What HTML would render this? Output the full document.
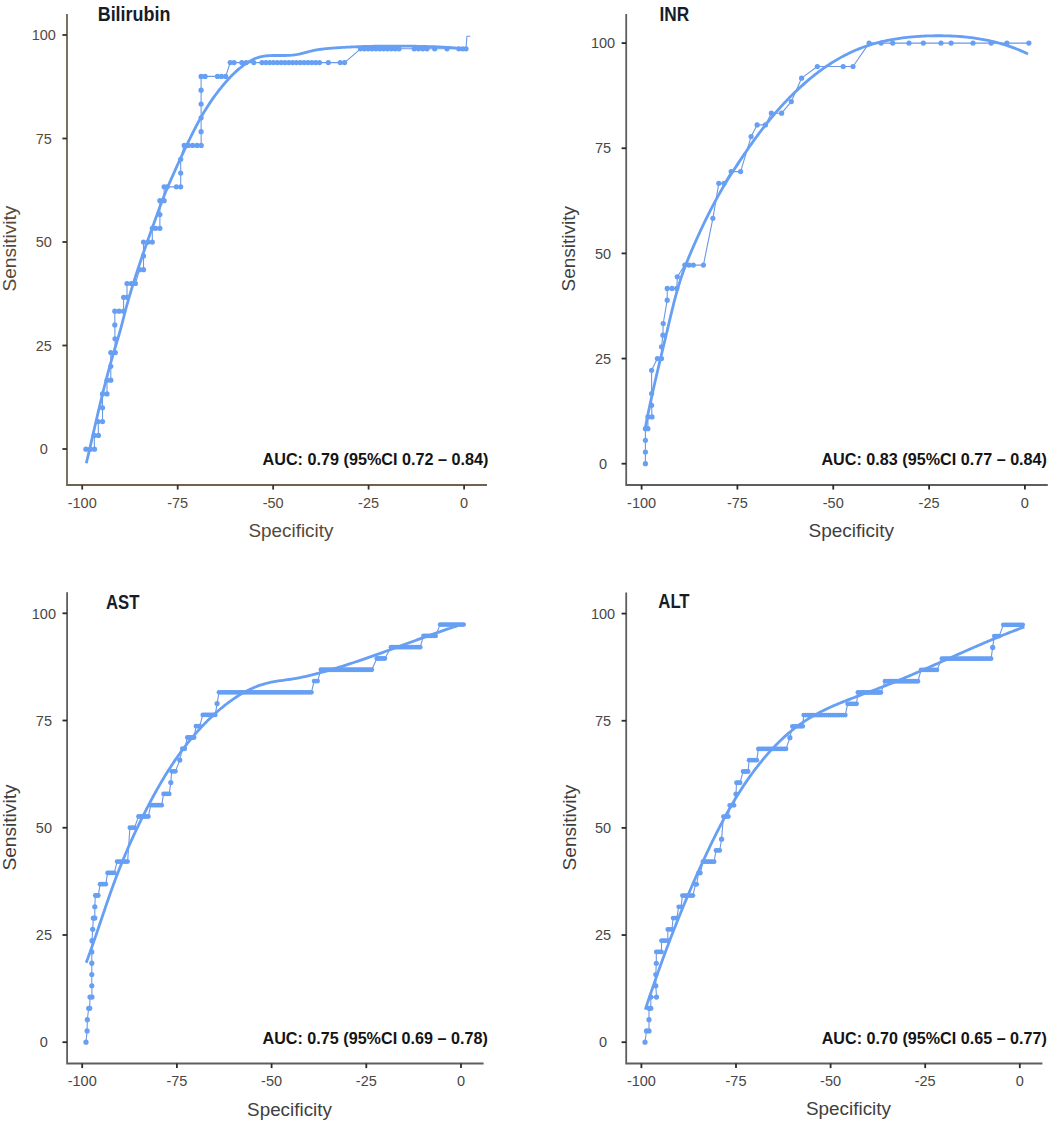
<!DOCTYPE html><html><head><meta charset="utf-8"><style>
html,body{margin:0;padding:0;background:#fff;width:1052px;height:1126px;overflow:hidden}
svg{display:block}
text{font-family:"Liberation Sans",sans-serif}
.tl{font-size:14.5px}
.at{font-size:19.2px}
.tt{font-size:19.3px;font-weight:bold;fill:#161c28}
.auc{font-size:16.4px;font-weight:bold;fill:#141414}
</style></head><body>
<svg width="1052" height="1126" viewBox="0 0 1052 1126">
<rect width="1052" height="1126" fill="#fff"/>
<path d="M67.00,14.00 V485.00 H487.00" fill="none" stroke="#6f624f" stroke-width="1.8"/>
<line x1="62.40" y1="35.00" x2="67.00" y2="35.00" stroke="#3a3128" stroke-width="1.8"/>
<text x="43.80" y="40.20" text-anchor="middle" class="tl" fill="#56493a">100</text>
<line x1="62.40" y1="138.50" x2="67.00" y2="138.50" stroke="#3a3128" stroke-width="1.8"/>
<text x="43.80" y="143.70" text-anchor="middle" class="tl" fill="#56493a">75</text>
<line x1="62.40" y1="242.00" x2="67.00" y2="242.00" stroke="#3a3128" stroke-width="1.8"/>
<text x="43.80" y="247.20" text-anchor="middle" class="tl" fill="#56493a">50</text>
<line x1="62.40" y1="345.50" x2="67.00" y2="345.50" stroke="#3a3128" stroke-width="1.8"/>
<text x="43.80" y="350.70" text-anchor="middle" class="tl" fill="#56493a">25</text>
<line x1="62.40" y1="449.00" x2="67.00" y2="449.00" stroke="#3a3128" stroke-width="1.8"/>
<text x="43.80" y="454.20" text-anchor="middle" class="tl" fill="#56493a">0</text>
<line x1="82.20" y1="485.00" x2="82.20" y2="489.60" stroke="#3a3128" stroke-width="1.8"/>
<text x="82.20" y="507.80" text-anchor="middle" class="tl" fill="#56493a">-100</text>
<line x1="177.70" y1="485.00" x2="177.70" y2="489.60" stroke="#3a3128" stroke-width="1.8"/>
<text x="177.70" y="507.80" text-anchor="middle" class="tl" fill="#56493a">-75</text>
<line x1="273.15" y1="485.00" x2="273.15" y2="489.60" stroke="#3a3128" stroke-width="1.8"/>
<text x="273.15" y="507.80" text-anchor="middle" class="tl" fill="#56493a">-50</text>
<line x1="368.60" y1="485.00" x2="368.60" y2="489.60" stroke="#3a3128" stroke-width="1.8"/>
<text x="368.60" y="507.80" text-anchor="middle" class="tl" fill="#56493a">-25</text>
<line x1="464.10" y1="485.00" x2="464.10" y2="489.60" stroke="#3a3128" stroke-width="1.8"/>
<text x="464.10" y="507.80" text-anchor="middle" class="tl" fill="#56493a">0</text>
<text x="248.50" y="536.60" class="at" fill="#56493a" textLength="84.90" lengthAdjust="spacingAndGlyphs">Specificity</text>
<text transform="translate(16.30,291.60) rotate(-90)" x="0" y="0" class="at" fill="#56493a" textLength="86.00" lengthAdjust="spacingAndGlyphs">Sensitivity</text>
<text x="97.70" y="20.50" class="tt" textLength="72.70" lengthAdjust="spacingAndGlyphs">Bilirubin</text>
<text x="262.50" y="465.40" class="auc" textLength="225.90" lengthAdjust="spacingAndGlyphs">AUC: 0.79 (95%CI 0.72 – 0.84)</text>
<polyline points="85.90,449.20 90.40,449.20 94.50,449.20 94.20,435.39 98.40,435.39 98.20,421.59 102.50,421.59 102.50,407.78 102.50,393.97 107.00,393.97 107.00,380.16 110.80,380.16 110.80,366.36 110.80,352.55 115.30,352.55 115.00,338.74 114.80,324.94 114.80,311.13 119.10,311.13 123.60,311.13 123.60,297.32 127.00,297.32 127.00,283.52 131.20,283.52 135.40,283.52 139.60,269.71 143.50,269.71 143.50,255.90 143.50,242.09 148.10,242.09 152.30,242.09 152.30,228.29 155.70,228.29 159.90,228.29 159.90,214.48 159.90,200.67 164.10,200.67 164.10,186.87 167.20,186.87 176.40,186.87 180.70,186.87 180.70,173.06 180.70,159.25 184.20,145.45 188.30,145.45 192.60,145.45 197.00,145.45 201.20,145.45 201.10,131.64 201.10,117.83 201.10,104.02 201.10,90.22 201.10,76.41 205.10,76.41 217.50,76.41 221.50,76.41 225.70,76.41 230.20,62.60 234.00,62.60 241.80,62.60 246.20,62.60 253.80,62.60 262.00,62.60 265.83,62.60 269.66,62.60 273.49,62.60 277.32,62.60 281.15,62.60 284.98,62.60 288.81,62.60 292.64,62.60 296.47,62.60 300.30,62.60 304.13,62.60 307.96,62.60 311.79,62.60 315.62,62.60 319.45,62.60 328.30,62.60 340.30,62.60 344.60,62.60 360.50,48.80 364.35,48.80 368.20,48.80 372.05,48.80 375.90,48.80 379.75,48.80 383.60,48.80 387.45,48.80 391.30,48.80 395.15,48.80 399.00,48.80 414.20,48.80 418.50,48.80 422.80,48.80 427.00,48.80 434.70,48.80 447.00,48.80 458.90,48.80 462.70,48.80 466.00,48.80 466.90,36.30 470.30,36.30" fill="none" stroke="#6d97e3" stroke-width="1.1" stroke-linejoin="round"/>
<g fill="#669ff3">
<circle cx="85.90" cy="449.20" r="2.6"/>
<circle cx="90.40" cy="449.20" r="2.6"/>
<circle cx="94.50" cy="449.20" r="2.6"/>
<circle cx="94.20" cy="435.39" r="2.6"/>
<circle cx="98.40" cy="435.39" r="2.6"/>
<circle cx="98.20" cy="421.59" r="2.6"/>
<circle cx="102.50" cy="421.59" r="2.6"/>
<circle cx="102.50" cy="407.78" r="2.6"/>
<circle cx="102.50" cy="393.97" r="2.6"/>
<circle cx="107.00" cy="393.97" r="2.6"/>
<circle cx="107.00" cy="380.16" r="2.6"/>
<circle cx="110.80" cy="380.16" r="2.6"/>
<circle cx="110.80" cy="366.36" r="2.6"/>
<circle cx="110.80" cy="352.55" r="2.6"/>
<circle cx="115.30" cy="352.55" r="2.6"/>
<circle cx="115.00" cy="338.74" r="2.6"/>
<circle cx="114.80" cy="324.94" r="2.6"/>
<circle cx="114.80" cy="311.13" r="2.6"/>
<circle cx="119.10" cy="311.13" r="2.6"/>
<circle cx="123.60" cy="311.13" r="2.6"/>
<circle cx="123.60" cy="297.32" r="2.6"/>
<circle cx="127.00" cy="297.32" r="2.6"/>
<circle cx="127.00" cy="283.52" r="2.6"/>
<circle cx="131.20" cy="283.52" r="2.6"/>
<circle cx="135.40" cy="283.52" r="2.6"/>
<circle cx="139.60" cy="269.71" r="2.6"/>
<circle cx="143.50" cy="269.71" r="2.6"/>
<circle cx="143.50" cy="255.90" r="2.6"/>
<circle cx="143.50" cy="242.09" r="2.6"/>
<circle cx="148.10" cy="242.09" r="2.6"/>
<circle cx="152.30" cy="242.09" r="2.6"/>
<circle cx="152.30" cy="228.29" r="2.6"/>
<circle cx="155.70" cy="228.29" r="2.6"/>
<circle cx="159.90" cy="228.29" r="2.6"/>
<circle cx="159.90" cy="214.48" r="2.6"/>
<circle cx="159.90" cy="200.67" r="2.6"/>
<circle cx="164.10" cy="200.67" r="2.6"/>
<circle cx="164.10" cy="186.87" r="2.6"/>
<circle cx="167.20" cy="186.87" r="2.6"/>
<circle cx="176.40" cy="186.87" r="2.6"/>
<circle cx="180.70" cy="186.87" r="2.6"/>
<circle cx="180.70" cy="173.06" r="2.6"/>
<circle cx="180.70" cy="159.25" r="2.6"/>
<circle cx="184.20" cy="145.45" r="2.6"/>
<circle cx="188.30" cy="145.45" r="2.6"/>
<circle cx="192.60" cy="145.45" r="2.6"/>
<circle cx="197.00" cy="145.45" r="2.6"/>
<circle cx="201.20" cy="145.45" r="2.6"/>
<circle cx="201.10" cy="131.64" r="2.6"/>
<circle cx="201.10" cy="117.83" r="2.6"/>
<circle cx="201.10" cy="104.02" r="2.6"/>
<circle cx="201.10" cy="90.22" r="2.6"/>
<circle cx="201.10" cy="76.41" r="2.6"/>
<circle cx="205.10" cy="76.41" r="2.6"/>
<circle cx="217.50" cy="76.41" r="2.6"/>
<circle cx="221.50" cy="76.41" r="2.6"/>
<circle cx="225.70" cy="76.41" r="2.6"/>
<circle cx="230.20" cy="62.60" r="2.6"/>
<circle cx="234.00" cy="62.60" r="2.6"/>
<circle cx="241.80" cy="62.60" r="2.6"/>
<circle cx="246.20" cy="62.60" r="2.6"/>
<circle cx="253.80" cy="62.60" r="2.6"/>
<circle cx="262.00" cy="62.60" r="2.6"/>
<circle cx="265.83" cy="62.60" r="2.6"/>
<circle cx="269.66" cy="62.60" r="2.6"/>
<circle cx="273.49" cy="62.60" r="2.6"/>
<circle cx="277.32" cy="62.60" r="2.6"/>
<circle cx="281.15" cy="62.60" r="2.6"/>
<circle cx="284.98" cy="62.60" r="2.6"/>
<circle cx="288.81" cy="62.60" r="2.6"/>
<circle cx="292.64" cy="62.60" r="2.6"/>
<circle cx="296.47" cy="62.60" r="2.6"/>
<circle cx="300.30" cy="62.60" r="2.6"/>
<circle cx="304.13" cy="62.60" r="2.6"/>
<circle cx="307.96" cy="62.60" r="2.6"/>
<circle cx="311.79" cy="62.60" r="2.6"/>
<circle cx="315.62" cy="62.60" r="2.6"/>
<circle cx="319.45" cy="62.60" r="2.6"/>
<circle cx="328.30" cy="62.60" r="2.6"/>
<circle cx="340.30" cy="62.60" r="2.6"/>
<circle cx="344.60" cy="62.60" r="2.6"/>
<circle cx="360.50" cy="48.80" r="2.6"/>
<circle cx="364.35" cy="48.80" r="2.6"/>
<circle cx="368.20" cy="48.80" r="2.6"/>
<circle cx="372.05" cy="48.80" r="2.6"/>
<circle cx="375.90" cy="48.80" r="2.6"/>
<circle cx="379.75" cy="48.80" r="2.6"/>
<circle cx="383.60" cy="48.80" r="2.6"/>
<circle cx="387.45" cy="48.80" r="2.6"/>
<circle cx="391.30" cy="48.80" r="2.6"/>
<circle cx="395.15" cy="48.80" r="2.6"/>
<circle cx="399.00" cy="48.80" r="2.6"/>
<circle cx="414.20" cy="48.80" r="2.6"/>
<circle cx="418.50" cy="48.80" r="2.6"/>
<circle cx="422.80" cy="48.80" r="2.6"/>
<circle cx="427.00" cy="48.80" r="2.6"/>
<circle cx="434.70" cy="48.80" r="2.6"/>
<circle cx="447.00" cy="48.80" r="2.6"/>
<circle cx="458.90" cy="48.80" r="2.6"/>
<circle cx="462.70" cy="48.80" r="2.6"/>
<circle cx="466.00" cy="48.80" r="2.6"/>
</g>
<path d="M86.32,463.21 L86.67,461.74 L87.02,460.27 L87.37,458.80 L87.71,457.33 L88.06,455.86 L88.40,454.39 L88.75,452.92 L89.09,451.46 L89.43,449.99 L89.77,448.52 L90.11,447.05 L90.45,445.58 L90.79,444.12 L91.13,442.65 L91.47,441.18 L91.81,439.71 L92.14,438.25 L92.48,436.78 L92.82,435.31 L93.16,433.85 L93.49,432.38 L93.83,430.92 L94.17,429.45 L94.51,427.98 L94.84,426.52 L95.18,425.05 L95.52,423.59 L95.86,422.12 L96.20,420.66 L96.54,419.19 L96.88,417.73 L97.22,416.27 L97.56,414.80 L97.91,413.34 L98.25,411.87 L98.59,410.41 L98.94,408.95 L99.29,407.49 L99.63,406.02 L99.98,404.56 L100.33,403.10 L100.69,401.64 L101.04,400.17 L101.39,398.71 L101.75,397.25 L102.11,395.79 L102.47,394.33 L102.83,392.87 L103.19,391.41 L103.56,389.95 L103.92,388.49 L104.29,387.03 L104.66,385.57 L105.04,384.11 L105.41,382.65 L105.79,381.19 L106.17,379.73 L106.55,378.28 L106.94,376.82 L107.32,375.36 L107.71,373.90 L108.10,372.44 L108.50,370.99 L108.89,369.53 L109.29,368.07 L109.70,366.62 L110.10,365.16 L110.51,363.71 L110.91,362.25 L111.32,360.80 L111.74,359.34 L112.15,357.89 L112.57,356.43 L112.99,354.98 L113.42,353.52 L113.84,352.07 L114.27,350.62 L114.70,349.16 L115.13,347.71 L115.57,346.26 L116.00,344.81 L116.44,343.35 L116.87,341.90 L117.31,340.45 L117.74,339.00 L118.17,337.55 L118.60,336.10 L119.03,334.65 L119.45,333.20 L119.86,331.75 L120.27,330.30 L120.67,328.85 L121.07,327.40 L121.46,325.95 L121.84,324.50 L122.22,323.06 L122.59,321.61 L122.96,320.16 L123.32,318.72 L123.69,317.27 L124.05,315.82 L124.41,314.38 L124.79,312.93 L125.16,311.49 L125.55,310.04 L125.93,308.60 L126.33,307.15 L126.72,305.71 L127.13,304.26 L127.53,302.82 L127.94,301.38 L128.36,299.93 L128.77,298.49 L129.20,297.05 L129.62,295.61 L130.05,294.17 L130.48,292.73 L130.91,291.28 L131.34,289.84 L131.78,288.40 L132.22,286.96 L132.67,285.53 L133.11,284.09 L133.56,282.65 L134.01,281.21 L134.46,279.77 L134.92,278.34 L135.38,276.90 L135.84,275.46 L136.30,274.03 L136.77,272.59 L137.23,271.16 L137.70,269.72 L138.17,268.29 L138.65,266.85 L139.12,265.42 L139.60,263.99 L140.08,262.56 L140.56,261.13 L141.05,259.69 L141.53,258.26 L142.02,256.83 L142.51,255.41 L143.00,253.98 L143.50,252.55 L143.99,251.12 L144.49,249.69 L144.99,248.27 L145.49,246.84 L145.99,245.42 L146.49,243.99 L146.99,242.57 L147.50,241.15 L148.00,239.72 L148.51,238.30 L149.02,236.88 L149.53,235.46 L150.04,234.04 L150.55,232.62 L151.06,231.20 L151.57,229.79 L152.08,228.37 L152.59,226.95 L153.10,225.54 L153.62,224.12 L154.13,222.71 L154.64,221.30 L155.15,219.88 L155.66,218.47 L156.17,217.06 L156.68,215.65 L157.19,214.24 L157.70,212.83 L158.21,211.43 L158.72,210.02 L159.23,208.61 L159.75,207.21 L160.26,205.80 L160.78,204.40 L161.31,203.00 L161.83,201.60 L162.36,200.20 L162.90,198.80 L163.44,197.40 L163.99,196.00 L164.55,194.60 L165.11,193.21 L165.68,191.81 L166.26,190.42 L166.85,189.03 L167.44,187.63 L168.04,186.24 L168.65,184.85 L169.25,183.46 L169.86,182.07 L170.48,180.69 L171.09,179.30 L171.70,177.92 L172.31,176.53 L172.93,175.15 L173.54,173.77 L174.16,172.39 L174.77,171.01 L175.39,169.63 L176.01,168.25 L176.62,166.87 L177.24,165.50 L177.87,164.12 L178.49,162.75 L179.12,161.38 L179.74,160.01 L180.37,158.64 L181.01,157.27 L181.64,155.90 L182.28,154.54 L182.92,153.17 L183.56,151.81 L184.20,150.44 L184.85,149.08 L185.50,147.72 L186.15,146.36 L186.80,145.01 L187.45,143.65 L188.10,142.29 L188.76,140.94 L189.42,139.59 L190.08,138.24 L190.74,136.89 L191.41,135.54 L192.08,134.19 L192.75,132.85 L193.43,131.51 L194.11,130.17 L194.80,128.84 L195.49,127.50 L196.18,126.17 L196.88,124.85 L197.59,123.52 L198.30,122.20 L199.02,120.88 L199.74,119.57 L200.48,118.26 L201.21,116.95 L201.96,115.65 L202.71,114.35 L203.48,113.06 L204.25,111.77 L205.02,110.48 L205.81,109.20 L206.61,107.93 L207.41,106.65 L208.23,105.39 L209.05,104.13 L209.89,102.87 L210.73,101.62 L211.58,100.38 L212.44,99.14 L213.32,97.91 L214.20,96.68 L215.09,95.46 L215.98,94.24 L216.89,93.04 L217.81,91.84 L218.73,90.64 L219.66,89.45 L220.61,88.27 L221.56,87.10 L222.51,85.93 L223.48,84.77 L224.46,83.62 L225.44,82.48 L226.43,81.34 L227.43,80.22 L228.44,79.10 L229.46,78.00 L230.50,76.90 L231.54,75.82 L232.60,74.75 L233.67,73.70 L234.75,72.66 L235.85,71.64 L236.96,70.63 L238.09,69.64 L239.23,68.67 L240.40,67.72 L241.58,66.79 L242.77,65.88 L243.99,64.99 L245.22,64.12 L246.48,63.27 L247.75,62.45 L249.05,61.66 L250.37,60.88 L251.71,60.14 L253.07,59.45 L254.45,58.81 L255.85,58.24 L257.27,57.73 L258.70,57.29 L260.14,56.90 L261.60,56.57 L263.07,56.29 L264.55,56.07 L266.04,55.88 L267.53,55.74 L269.04,55.64 L270.54,55.56 L272.05,55.52 L273.56,55.49 L275.08,55.48 L276.59,55.48 L278.10,55.49 L279.61,55.50 L281.11,55.51 L282.61,55.52 L284.11,55.51 L285.61,55.49 L287.10,55.46 L288.59,55.40 L290.07,55.32 L291.56,55.22 L293.04,55.08 L294.52,54.91 L296.00,54.71 L297.48,54.46 L298.95,54.17 L300.43,53.83 L301.91,53.47 L303.38,53.08 L304.86,52.68 L306.34,52.28 L307.81,51.88 L309.29,51.50 L310.77,51.14 L312.25,50.80 L313.74,50.49 L315.22,50.20 L316.70,49.93 L318.19,49.68 L319.68,49.45 L321.16,49.24 L322.65,49.05 L324.14,48.87 L325.63,48.70 L327.13,48.55 L328.62,48.41 L330.11,48.27 L331.61,48.15 L333.10,48.04 L334.60,47.93 L336.09,47.83 L337.59,47.73 L339.09,47.63 L340.58,47.54 L342.08,47.45 L343.58,47.37 L345.08,47.28 L346.58,47.20 L348.08,47.13 L349.58,47.05 L351.08,46.98 L352.59,46.91 L354.09,46.85 L355.59,46.79 L357.09,46.73 L358.60,46.67 L360.10,46.62 L361.61,46.57 L363.11,46.52 L364.62,46.47 L366.12,46.43 L367.63,46.39 L369.13,46.35 L370.64,46.32 L372.15,46.28 L373.65,46.25 L375.16,46.23 L376.67,46.20 L378.17,46.18 L379.68,46.16 L381.19,46.14 L382.70,46.12 L384.21,46.11 L385.71,46.09 L387.22,46.09 L388.73,46.08 L390.24,46.07 L391.75,46.07 L393.26,46.07 L394.77,46.07 L396.27,46.07 L397.78,46.08 L399.29,46.08 L400.80,46.09 L402.31,46.10 L403.82,46.11 L405.33,46.13 L406.84,46.14 L408.34,46.16 L409.85,46.18 L411.36,46.20 L412.87,46.22 L414.38,46.25 L415.89,46.27 L417.39,46.30 L418.90,46.33 L420.41,46.36 L421.92,46.39 L423.42,46.42 L424.93,46.46 L426.44,46.49 L427.94,46.53 L429.45,46.58 L430.96,46.62 L432.46,46.67 L433.97,46.72 L435.47,46.77 L436.98,46.83 L438.48,46.90 L439.98,46.96 L441.49,47.03 L442.99,47.11 L444.49,47.19 L446.00,47.28 L447.50,47.37 L449.00,47.47 L450.50,47.57 L452.00,47.68 L453.50,47.79 L455.00,47.91 L456.50,48.04 L458.00,48.18 L459.49,48.32 L460.99,48.47 L462.49,48.63 L463.98,48.79 L465.48,48.96" fill="none" stroke="#669ff3" stroke-width="2.8" stroke-linecap="butt" stroke-linejoin="round"/>
<path d="M626.20,14.00 V485.00 H1047.80" fill="none" stroke="#5e5e5e" stroke-width="1.8"/>
<line x1="621.60" y1="43.10" x2="626.20" y2="43.10" stroke="#2a2a2a" stroke-width="1.8"/>
<text x="603.00" y="48.30" text-anchor="middle" class="tl" fill="#474747">100</text>
<line x1="621.60" y1="148.25" x2="626.20" y2="148.25" stroke="#2a2a2a" stroke-width="1.8"/>
<text x="603.00" y="153.45" text-anchor="middle" class="tl" fill="#474747">75</text>
<line x1="621.60" y1="253.40" x2="626.20" y2="253.40" stroke="#2a2a2a" stroke-width="1.8"/>
<text x="603.00" y="258.60" text-anchor="middle" class="tl" fill="#474747">50</text>
<line x1="621.60" y1="358.55" x2="626.20" y2="358.55" stroke="#2a2a2a" stroke-width="1.8"/>
<text x="603.00" y="363.75" text-anchor="middle" class="tl" fill="#474747">25</text>
<line x1="621.60" y1="463.70" x2="626.20" y2="463.70" stroke="#2a2a2a" stroke-width="1.8"/>
<text x="603.00" y="468.90" text-anchor="middle" class="tl" fill="#474747">0</text>
<line x1="641.60" y1="485.00" x2="641.60" y2="489.60" stroke="#2a2a2a" stroke-width="1.8"/>
<text x="641.60" y="507.80" text-anchor="middle" class="tl" fill="#474747">-100</text>
<line x1="737.40" y1="485.00" x2="737.40" y2="489.60" stroke="#2a2a2a" stroke-width="1.8"/>
<text x="737.40" y="507.80" text-anchor="middle" class="tl" fill="#474747">-75</text>
<line x1="833.25" y1="485.00" x2="833.25" y2="489.60" stroke="#2a2a2a" stroke-width="1.8"/>
<text x="833.25" y="507.80" text-anchor="middle" class="tl" fill="#474747">-50</text>
<line x1="929.10" y1="485.00" x2="929.10" y2="489.60" stroke="#2a2a2a" stroke-width="1.8"/>
<text x="929.10" y="507.80" text-anchor="middle" class="tl" fill="#474747">-25</text>
<line x1="1024.90" y1="485.00" x2="1024.90" y2="489.60" stroke="#2a2a2a" stroke-width="1.8"/>
<text x="1024.90" y="507.80" text-anchor="middle" class="tl" fill="#474747">0</text>
<text x="808.50" y="537.40" class="at" fill="#3f3f3f" textLength="85.60" lengthAdjust="spacingAndGlyphs">Specificity</text>
<text transform="translate(574.90,291.50) rotate(-90)" x="0" y="0" class="at" fill="#3f3f3f" textLength="85.50" lengthAdjust="spacingAndGlyphs">Sensitivity</text>
<text x="659.40" y="20.50" class="tt" textLength="29.70" lengthAdjust="spacingAndGlyphs">INR</text>
<text x="821.40" y="465.30" class="auc" textLength="225.60" lengthAdjust="spacingAndGlyphs">AUC: 0.83 (95%CI 0.77 – 0.84)</text>
<polyline points="645.40,463.70 645.40,452.02 645.40,440.33 645.40,428.65 647.90,428.65 647.90,416.97 652.00,416.97 651.60,405.28 651.60,393.60 651.60,370.24 657.40,358.55 661.50,358.55 661.50,346.87 662.90,335.19 663.20,323.50 667.20,300.14 667.20,288.45 672.00,288.45 676.80,288.45 677.30,276.77 684.80,265.09 689.00,265.09 693.30,265.09 703.40,265.09 712.90,218.36 718.80,183.31 724.10,183.31 731.20,171.62 740.60,171.62 751.10,136.58 757.10,124.89 765.40,124.89 771.40,113.21 781.60,113.21 791.30,101.53 801.60,78.16 817.30,66.48 843.20,66.48 853.00,66.48 869.10,43.11 881.10,43.11 892.70,43.11 909.00,43.11 923.30,43.11 941.00,43.11 951.10,43.11 973.00,43.11 991.10,43.11 1006.90,43.11 1028.90,43.11" fill="none" stroke="#6d97e3" stroke-width="1.1" stroke-linejoin="round"/>
<g fill="#669ff3">
<circle cx="645.40" cy="463.70" r="2.6"/>
<circle cx="645.40" cy="452.02" r="2.6"/>
<circle cx="645.40" cy="440.33" r="2.6"/>
<circle cx="645.40" cy="428.65" r="2.6"/>
<circle cx="647.90" cy="428.65" r="2.6"/>
<circle cx="647.90" cy="416.97" r="2.6"/>
<circle cx="652.00" cy="416.97" r="2.6"/>
<circle cx="651.60" cy="405.28" r="2.6"/>
<circle cx="651.60" cy="393.60" r="2.6"/>
<circle cx="651.60" cy="370.24" r="2.6"/>
<circle cx="657.40" cy="358.55" r="2.6"/>
<circle cx="661.50" cy="358.55" r="2.6"/>
<circle cx="661.50" cy="346.87" r="2.6"/>
<circle cx="662.90" cy="335.19" r="2.6"/>
<circle cx="663.20" cy="323.50" r="2.6"/>
<circle cx="667.20" cy="300.14" r="2.6"/>
<circle cx="667.20" cy="288.45" r="2.6"/>
<circle cx="672.00" cy="288.45" r="2.6"/>
<circle cx="676.80" cy="288.45" r="2.6"/>
<circle cx="677.30" cy="276.77" r="2.6"/>
<circle cx="684.80" cy="265.09" r="2.6"/>
<circle cx="689.00" cy="265.09" r="2.6"/>
<circle cx="693.30" cy="265.09" r="2.6"/>
<circle cx="703.40" cy="265.09" r="2.6"/>
<circle cx="712.90" cy="218.36" r="2.6"/>
<circle cx="718.80" cy="183.31" r="2.6"/>
<circle cx="724.10" cy="183.31" r="2.6"/>
<circle cx="731.20" cy="171.62" r="2.6"/>
<circle cx="740.60" cy="171.62" r="2.6"/>
<circle cx="751.10" cy="136.58" r="2.6"/>
<circle cx="757.10" cy="124.89" r="2.6"/>
<circle cx="765.40" cy="124.89" r="2.6"/>
<circle cx="771.40" cy="113.21" r="2.6"/>
<circle cx="781.60" cy="113.21" r="2.6"/>
<circle cx="791.30" cy="101.53" r="2.6"/>
<circle cx="801.60" cy="78.16" r="2.6"/>
<circle cx="817.30" cy="66.48" r="2.6"/>
<circle cx="843.20" cy="66.48" r="2.6"/>
<circle cx="853.00" cy="66.48" r="2.6"/>
<circle cx="869.10" cy="43.11" r="2.6"/>
<circle cx="881.10" cy="43.11" r="2.6"/>
<circle cx="892.70" cy="43.11" r="2.6"/>
<circle cx="909.00" cy="43.11" r="2.6"/>
<circle cx="923.30" cy="43.11" r="2.6"/>
<circle cx="941.00" cy="43.11" r="2.6"/>
<circle cx="951.10" cy="43.11" r="2.6"/>
<circle cx="973.00" cy="43.11" r="2.6"/>
<circle cx="991.10" cy="43.11" r="2.6"/>
<circle cx="1006.90" cy="43.11" r="2.6"/>
<circle cx="1028.90" cy="43.11" r="2.6"/>
</g>
<path d="M644.97,429.83 L645.24,428.37 L645.51,426.92 L645.78,425.46 L646.05,424.01 L646.33,422.55 L646.61,421.10 L646.90,419.64 L647.18,418.18 L647.47,416.72 L647.77,415.26 L648.06,413.80 L648.36,412.33 L648.66,410.87 L648.96,409.41 L649.27,407.95 L649.57,406.48 L649.88,405.02 L650.19,403.55 L650.51,402.09 L650.82,400.62 L651.14,399.15 L651.46,397.68 L651.78,396.22 L652.11,394.75 L652.43,393.28 L652.76,391.81 L653.09,390.34 L653.42,388.87 L653.75,387.40 L654.09,385.93 L654.42,384.46 L654.76,382.99 L655.10,381.52 L655.44,380.05 L655.78,378.58 L656.12,377.11 L656.46,375.64 L656.80,374.16 L657.15,372.69 L657.49,371.22 L657.84,369.75 L658.19,368.28 L658.54,366.81 L658.89,365.34 L659.23,363.86 L659.58,362.39 L659.94,360.92 L660.29,359.45 L660.64,357.98 L660.99,356.51 L661.34,355.04 L661.69,353.57 L662.05,352.10 L662.40,350.63 L662.75,349.16 L663.11,347.69 L663.46,346.22 L663.81,344.76 L664.16,343.29 L664.52,341.82 L664.87,340.36 L665.22,338.89 L665.57,337.42 L665.92,335.96 L666.27,334.49 L666.62,333.03 L666.97,331.57 L667.32,330.10 L667.67,328.64 L668.01,327.18 L668.36,325.72 L668.71,324.26 L669.05,322.80 L669.39,321.34 L669.74,319.88 L670.08,318.42 L670.43,316.97 L670.78,315.51 L671.13,314.06 L671.47,312.61 L671.83,311.15 L672.18,309.70 L672.54,308.25 L672.89,306.80 L673.25,305.35 L673.62,303.90 L673.99,302.46 L674.36,301.01 L674.73,299.57 L675.11,298.12 L675.50,296.68 L675.88,295.24 L676.28,293.80 L676.68,292.36 L677.08,290.93 L677.49,289.49 L677.91,288.05 L678.33,286.62 L678.76,285.19 L679.20,283.76 L679.64,282.33 L680.09,280.90 L680.55,279.48 L681.02,278.05 L681.50,276.63 L681.98,275.20 L682.47,273.78 L682.98,272.37 L683.49,270.95 L684.00,269.53 L684.53,268.12 L685.06,266.71 L685.60,265.30 L686.15,263.89 L686.70,262.48 L687.26,261.07 L687.83,259.67 L688.40,258.27 L688.97,256.87 L689.55,255.47 L690.14,254.07 L690.73,252.68 L691.32,251.28 L691.92,249.89 L692.52,248.50 L693.12,247.12 L693.72,245.73 L694.33,244.35 L694.94,242.97 L695.55,241.59 L696.16,240.21 L696.78,238.84 L697.40,237.47 L698.02,236.09 L698.64,234.73 L699.27,233.36 L699.89,231.99 L700.53,230.63 L701.16,229.27 L701.80,227.91 L702.44,226.56 L703.08,225.20 L703.73,223.85 L704.37,222.50 L705.03,221.15 L705.68,219.81 L706.34,218.46 L707.00,217.12 L707.67,215.78 L708.34,214.44 L709.01,213.10 L709.69,211.77 L710.37,210.44 L711.05,209.11 L711.74,207.78 L712.43,206.46 L713.13,205.13 L713.83,203.81 L714.53,202.49 L715.24,201.17 L715.95,199.86 L716.67,198.55 L717.39,197.24 L718.12,195.93 L718.85,194.62 L719.58,193.31 L720.32,192.01 L721.07,190.71 L721.82,189.41 L722.57,188.12 L723.33,186.82 L724.09,185.53 L724.86,184.24 L725.64,182.95 L726.42,181.67 L727.20,180.38 L727.99,179.10 L728.79,177.82 L729.59,176.54 L730.39,175.27 L731.20,173.99 L732.02,172.72 L732.84,171.45 L733.67,170.19 L734.49,168.92 L735.32,167.66 L736.15,166.40 L736.98,165.14 L737.81,163.88 L738.64,162.63 L739.48,161.38 L740.31,160.13 L741.14,158.88 L741.98,157.63 L742.81,156.39 L743.65,155.15 L744.49,153.91 L745.33,152.67 L746.17,151.44 L747.02,150.20 L747.86,148.97 L748.71,147.74 L749.57,146.52 L750.43,145.29 L751.29,144.07 L752.15,142.85 L753.02,141.63 L753.89,140.42 L754.76,139.20 L755.64,137.99 L756.53,136.78 L757.42,135.57 L758.31,134.37 L759.21,133.17 L760.11,131.97 L761.02,130.77 L761.93,129.57 L762.85,128.38 L763.77,127.19 L764.70,126.01 L765.63,124.82 L766.57,123.64 L767.51,122.47 L768.46,121.29 L769.41,120.12 L770.37,118.95 L771.33,117.79 L772.30,116.63 L773.27,115.48 L774.24,114.33 L775.23,113.18 L776.21,112.03 L777.21,110.90 L778.20,109.76 L779.21,108.63 L780.21,107.50 L781.23,106.38 L782.24,105.27 L783.27,104.16 L784.30,103.05 L785.33,101.95 L786.37,100.85 L787.41,99.76 L788.46,98.67 L789.52,97.59 L790.58,96.52 L791.64,95.45 L792.71,94.38 L793.79,93.33 L794.87,92.27 L795.95,91.23 L797.05,90.19 L798.14,89.16 L799.25,88.13 L800.35,87.11 L801.47,86.09 L802.59,85.09 L803.71,84.09 L804.84,83.09 L805.98,82.10 L807.12,81.12 L808.27,80.15 L809.42,79.19 L810.58,78.23 L811.74,77.28 L812.91,76.33 L814.08,75.40 L815.27,74.47 L816.45,73.55 L817.64,72.64 L818.84,71.74 L820.04,70.85 L821.25,69.96 L822.47,69.09 L823.69,68.22 L824.91,67.37 L826.15,66.52 L827.38,65.68 L828.63,64.85 L829.88,64.03 L831.13,63.23 L832.40,62.43 L833.66,61.64 L834.94,60.87 L836.21,60.10 L837.50,59.35 L838.79,58.60 L840.09,57.87 L841.39,57.15 L842.70,56.44 L844.02,55.74 L845.34,55.05 L846.66,54.38 L848.00,53.72 L849.34,53.07 L850.68,52.43 L852.03,51.81 L853.39,51.19 L854.76,50.59 L856.13,50.01 L857.50,49.44 L858.88,48.88 L860.27,48.33 L861.67,47.80 L863.07,47.28 L864.48,46.78 L865.89,46.28 L867.31,45.81 L868.73,45.34 L870.16,44.89 L871.59,44.45 L873.03,44.02 L874.48,43.61 L875.93,43.20 L877.38,42.81 L878.84,42.43 L880.30,42.07 L881.76,41.71 L883.23,41.37 L884.71,41.04 L886.18,40.72 L887.67,40.41 L889.15,40.12 L890.64,39.83 L892.13,39.56 L893.62,39.29 L895.12,39.04 L896.61,38.79 L898.12,38.56 L899.62,38.34 L901.12,38.13 L902.63,37.93 L904.14,37.73 L905.65,37.55 L907.16,37.38 L908.68,37.21 L910.19,37.06 L911.71,36.92 L913.22,36.78 L914.74,36.65 L916.26,36.53 L917.78,36.43 L919.29,36.33 L920.81,36.23 L922.33,36.15 L923.85,36.07 L925.37,36.01 L926.89,35.95 L928.40,35.89 L929.92,35.85 L931.43,35.81 L932.95,35.78 L934.46,35.76 L935.97,35.75 L937.48,35.74 L938.99,35.74 L940.50,35.74 L942.00,35.76 L943.51,35.78 L945.01,35.81 L946.51,35.84 L948.01,35.88 L949.50,35.93 L951.00,35.99 L952.49,36.06 L953.98,36.13 L955.47,36.21 L956.96,36.31 L958.45,36.41 L959.93,36.51 L961.41,36.63 L962.89,36.76 L964.37,36.89 L965.85,37.04 L967.33,37.19 L968.80,37.35 L970.28,37.53 L971.75,37.71 L973.22,37.90 L974.69,38.11 L976.15,38.32 L977.62,38.54 L979.08,38.78 L980.55,39.02 L982.01,39.28 L983.47,39.54 L984.92,39.82 L986.38,40.11 L987.84,40.41 L989.29,40.72 L990.74,41.04 L992.19,41.37 L993.64,41.72 L995.09,42.08 L996.53,42.45 L997.98,42.83 L999.42,43.23 L1000.86,43.63 L1002.30,44.05 L1003.74,44.49 L1005.18,44.93 L1006.62,45.39 L1008.05,45.86 L1009.48,46.35 L1010.92,46.85 L1012.35,47.36 L1013.78,47.89 L1015.21,48.43 L1016.63,48.98 L1018.06,49.55 L1019.48,50.13 L1020.90,50.73 L1022.33,51.34 L1023.75,51.97 L1025.16,52.61 L1026.58,53.27 L1028.00,53.94" fill="none" stroke="#669ff3" stroke-width="2.8" stroke-linecap="butt" stroke-linejoin="round"/>
<path d="M67.10,592.20 V1063.50 H483.60" fill="none" stroke="#5e5e5e" stroke-width="1.8"/>
<line x1="62.50" y1="613.30" x2="67.10" y2="613.30" stroke="#2a2a2a" stroke-width="1.8"/>
<text x="43.90" y="618.50" text-anchor="middle" class="tl" fill="#474747">100</text>
<line x1="62.50" y1="720.50" x2="67.10" y2="720.50" stroke="#2a2a2a" stroke-width="1.8"/>
<text x="43.90" y="725.70" text-anchor="middle" class="tl" fill="#474747">75</text>
<line x1="62.50" y1="827.75" x2="67.10" y2="827.75" stroke="#2a2a2a" stroke-width="1.8"/>
<text x="43.90" y="832.95" text-anchor="middle" class="tl" fill="#474747">50</text>
<line x1="62.50" y1="935.00" x2="67.10" y2="935.00" stroke="#2a2a2a" stroke-width="1.8"/>
<text x="43.90" y="940.20" text-anchor="middle" class="tl" fill="#474747">25</text>
<line x1="62.50" y1="1042.20" x2="67.10" y2="1042.20" stroke="#2a2a2a" stroke-width="1.8"/>
<text x="43.90" y="1047.40" text-anchor="middle" class="tl" fill="#474747">0</text>
<line x1="82.20" y1="1063.50" x2="82.20" y2="1068.10" stroke="#2a2a2a" stroke-width="1.8"/>
<text x="82.20" y="1086.30" text-anchor="middle" class="tl" fill="#474747">-100</text>
<line x1="176.90" y1="1063.50" x2="176.90" y2="1068.10" stroke="#2a2a2a" stroke-width="1.8"/>
<text x="176.90" y="1086.30" text-anchor="middle" class="tl" fill="#474747">-75</text>
<line x1="271.60" y1="1063.50" x2="271.60" y2="1068.10" stroke="#2a2a2a" stroke-width="1.8"/>
<text x="271.60" y="1086.30" text-anchor="middle" class="tl" fill="#474747">-50</text>
<line x1="366.30" y1="1063.50" x2="366.30" y2="1068.10" stroke="#2a2a2a" stroke-width="1.8"/>
<text x="366.30" y="1086.30" text-anchor="middle" class="tl" fill="#474747">-25</text>
<line x1="461.00" y1="1063.50" x2="461.00" y2="1068.10" stroke="#2a2a2a" stroke-width="1.8"/>
<text x="461.00" y="1086.30" text-anchor="middle" class="tl" fill="#474747">0</text>
<text x="247.10" y="1115.70" class="at" fill="#3f3f3f" textLength="84.80" lengthAdjust="spacingAndGlyphs">Specificity</text>
<text transform="translate(16.30,870.50) rotate(-90)" x="0" y="0" class="at" fill="#3f3f3f" textLength="86.00" lengthAdjust="spacingAndGlyphs">Sensitivity</text>
<text x="106.00" y="608.50" class="tt" textLength="33.40" lengthAdjust="spacingAndGlyphs">AST</text>
<text x="262.50" y="1044.00" class="auc" textLength="225.30" lengthAdjust="spacingAndGlyphs">AUC: 0.75 (95%CI 0.69 – 0.78)</text>
<polyline points="86.00,1042.20 87.10,1030.91 87.30,1019.63 88.70,1008.34 89.70,1008.34 90.00,997.06 92.00,997.06 91.80,985.77 91.80,974.48 91.80,963.20 91.80,951.91 92.00,940.63 92.70,929.34 93.30,918.05 94.80,918.05 94.80,906.77 95.30,895.48 98.30,895.48 100.10,884.20 105.80,884.20 107.60,872.91 114.30,872.91 117.10,861.62 127.60,861.62 129.90,827.77 134.50,827.77 138.50,816.48 148.40,816.48 150.70,805.19 161.70,805.19 163.60,793.91 169.20,793.91 170.80,782.62 171.70,771.34 175.40,771.34 179.80,760.05 182.30,748.76 184.80,748.76 187.30,737.48 194.10,737.48 196.00,726.19 199.70,726.19 202.80,714.91 215.20,714.91 217.10,703.62 219.00,692.33 311.40,692.33 314.10,681.05 317.60,681.05 320.90,669.76 371.80,669.76 376.80,658.48 384.90,658.48 391.00,647.19 420.20,647.19 423.50,635.90 435.60,635.90 440.10,624.62 463.60,624.62" fill="none" stroke="#6d97e3" stroke-width="1.1" stroke-linejoin="round"/>
<g fill="#669ff3">
<circle cx="86.00" cy="1042.20" r="2.6"/>
<circle cx="87.10" cy="1030.91" r="2.6"/>
<circle cx="87.30" cy="1019.63" r="2.6"/>
<circle cx="88.70" cy="1008.34" r="2.6"/>
<circle cx="89.70" cy="1008.34" r="2.6"/>
<circle cx="90.00" cy="997.06" r="2.6"/>
<circle cx="92.00" cy="997.06" r="2.6"/>
<circle cx="91.80" cy="985.77" r="2.6"/>
<circle cx="91.80" cy="974.48" r="2.6"/>
<circle cx="91.80" cy="963.20" r="2.6"/>
<circle cx="91.80" cy="951.91" r="2.6"/>
<circle cx="92.00" cy="940.63" r="2.6"/>
<circle cx="92.70" cy="929.34" r="2.6"/>
<circle cx="93.30" cy="918.05" r="2.6"/>
<circle cx="94.80" cy="918.05" r="2.6"/>
<circle cx="94.80" cy="906.77" r="2.6"/>
<circle cx="170.80" cy="782.62" r="2.6"/>
<circle cx="179.80" cy="760.05" r="2.6"/>
<circle cx="217.10" cy="703.62" r="2.6"/>
<circle cx="95.30" cy="895.48" r="2.4"/>
<circle cx="96.80" cy="895.48" r="2.4"/>
<circle cx="98.30" cy="895.48" r="2.4"/>
<circle cx="100.10" cy="884.20" r="2.4"/>
<circle cx="102.00" cy="884.20" r="2.4"/>
<circle cx="103.90" cy="884.20" r="2.4"/>
<circle cx="105.80" cy="884.20" r="2.4"/>
<circle cx="107.60" cy="872.91" r="2.4"/>
<circle cx="109.27" cy="872.91" r="2.4"/>
<circle cx="110.95" cy="872.91" r="2.4"/>
<circle cx="112.62" cy="872.91" r="2.4"/>
<circle cx="114.30" cy="872.91" r="2.4"/>
<circle cx="117.10" cy="861.62" r="2.4"/>
<circle cx="118.85" cy="861.62" r="2.4"/>
<circle cx="120.60" cy="861.62" r="2.4"/>
<circle cx="122.35" cy="861.62" r="2.4"/>
<circle cx="124.10" cy="861.62" r="2.4"/>
<circle cx="125.85" cy="861.62" r="2.4"/>
<circle cx="127.60" cy="861.62" r="2.4"/>
<circle cx="129.90" cy="827.77" r="2.4"/>
<circle cx="132.20" cy="827.77" r="2.4"/>
<circle cx="134.50" cy="827.77" r="2.4"/>
<circle cx="138.50" cy="816.48" r="2.4"/>
<circle cx="140.48" cy="816.48" r="2.4"/>
<circle cx="142.46" cy="816.48" r="2.4"/>
<circle cx="144.44" cy="816.48" r="2.4"/>
<circle cx="146.42" cy="816.48" r="2.4"/>
<circle cx="148.40" cy="816.48" r="2.4"/>
<circle cx="150.70" cy="805.19" r="2.4"/>
<circle cx="152.53" cy="805.19" r="2.4"/>
<circle cx="154.37" cy="805.19" r="2.4"/>
<circle cx="156.20" cy="805.19" r="2.4"/>
<circle cx="158.03" cy="805.19" r="2.4"/>
<circle cx="159.87" cy="805.19" r="2.4"/>
<circle cx="161.70" cy="805.19" r="2.4"/>
<circle cx="163.60" cy="793.91" r="2.4"/>
<circle cx="165.47" cy="793.91" r="2.4"/>
<circle cx="167.33" cy="793.91" r="2.4"/>
<circle cx="169.20" cy="793.91" r="2.4"/>
<circle cx="171.70" cy="771.34" r="2.4"/>
<circle cx="173.55" cy="771.34" r="2.4"/>
<circle cx="175.40" cy="771.34" r="2.4"/>
<circle cx="182.30" cy="748.76" r="2.4"/>
<circle cx="184.80" cy="748.76" r="2.4"/>
<circle cx="187.30" cy="737.48" r="2.4"/>
<circle cx="189.00" cy="737.48" r="2.4"/>
<circle cx="190.70" cy="737.48" r="2.4"/>
<circle cx="192.40" cy="737.48" r="2.4"/>
<circle cx="194.10" cy="737.48" r="2.4"/>
<circle cx="196.00" cy="726.19" r="2.4"/>
<circle cx="197.85" cy="726.19" r="2.4"/>
<circle cx="199.70" cy="726.19" r="2.4"/>
<circle cx="202.80" cy="714.91" r="2.4"/>
<circle cx="204.57" cy="714.91" r="2.4"/>
<circle cx="206.34" cy="714.91" r="2.4"/>
<circle cx="208.11" cy="714.91" r="2.4"/>
<circle cx="209.89" cy="714.91" r="2.4"/>
<circle cx="211.66" cy="714.91" r="2.4"/>
<circle cx="213.43" cy="714.91" r="2.4"/>
<circle cx="215.20" cy="714.91" r="2.4"/>
<circle cx="219.00" cy="692.33" r="2.4"/>
<circle cx="220.89" cy="692.33" r="2.4"/>
<circle cx="222.77" cy="692.33" r="2.4"/>
<circle cx="224.66" cy="692.33" r="2.4"/>
<circle cx="226.54" cy="692.33" r="2.4"/>
<circle cx="228.43" cy="692.33" r="2.4"/>
<circle cx="230.31" cy="692.33" r="2.4"/>
<circle cx="232.20" cy="692.33" r="2.4"/>
<circle cx="234.09" cy="692.33" r="2.4"/>
<circle cx="235.97" cy="692.33" r="2.4"/>
<circle cx="237.86" cy="692.33" r="2.4"/>
<circle cx="239.74" cy="692.33" r="2.4"/>
<circle cx="241.63" cy="692.33" r="2.4"/>
<circle cx="243.51" cy="692.33" r="2.4"/>
<circle cx="245.40" cy="692.33" r="2.4"/>
<circle cx="247.29" cy="692.33" r="2.4"/>
<circle cx="249.17" cy="692.33" r="2.4"/>
<circle cx="251.06" cy="692.33" r="2.4"/>
<circle cx="252.94" cy="692.33" r="2.4"/>
<circle cx="254.83" cy="692.33" r="2.4"/>
<circle cx="256.71" cy="692.33" r="2.4"/>
<circle cx="258.60" cy="692.33" r="2.4"/>
<circle cx="260.49" cy="692.33" r="2.4"/>
<circle cx="262.37" cy="692.33" r="2.4"/>
<circle cx="264.26" cy="692.33" r="2.4"/>
<circle cx="266.14" cy="692.33" r="2.4"/>
<circle cx="268.03" cy="692.33" r="2.4"/>
<circle cx="269.91" cy="692.33" r="2.4"/>
<circle cx="271.80" cy="692.33" r="2.4"/>
<circle cx="273.69" cy="692.33" r="2.4"/>
<circle cx="275.57" cy="692.33" r="2.4"/>
<circle cx="277.46" cy="692.33" r="2.4"/>
<circle cx="279.34" cy="692.33" r="2.4"/>
<circle cx="281.23" cy="692.33" r="2.4"/>
<circle cx="283.11" cy="692.33" r="2.4"/>
<circle cx="285.00" cy="692.33" r="2.4"/>
<circle cx="286.89" cy="692.33" r="2.4"/>
<circle cx="288.77" cy="692.33" r="2.4"/>
<circle cx="290.66" cy="692.33" r="2.4"/>
<circle cx="292.54" cy="692.33" r="2.4"/>
<circle cx="294.43" cy="692.33" r="2.4"/>
<circle cx="296.31" cy="692.33" r="2.4"/>
<circle cx="298.20" cy="692.33" r="2.4"/>
<circle cx="300.09" cy="692.33" r="2.4"/>
<circle cx="301.97" cy="692.33" r="2.4"/>
<circle cx="303.86" cy="692.33" r="2.4"/>
<circle cx="305.74" cy="692.33" r="2.4"/>
<circle cx="307.63" cy="692.33" r="2.4"/>
<circle cx="309.51" cy="692.33" r="2.4"/>
<circle cx="311.40" cy="692.33" r="2.4"/>
<circle cx="314.10" cy="681.05" r="2.4"/>
<circle cx="315.85" cy="681.05" r="2.4"/>
<circle cx="317.60" cy="681.05" r="2.4"/>
<circle cx="320.90" cy="669.76" r="2.4"/>
<circle cx="322.79" cy="669.76" r="2.4"/>
<circle cx="324.67" cy="669.76" r="2.4"/>
<circle cx="326.56" cy="669.76" r="2.4"/>
<circle cx="328.44" cy="669.76" r="2.4"/>
<circle cx="330.33" cy="669.76" r="2.4"/>
<circle cx="332.21" cy="669.76" r="2.4"/>
<circle cx="334.10" cy="669.76" r="2.4"/>
<circle cx="335.98" cy="669.76" r="2.4"/>
<circle cx="337.87" cy="669.76" r="2.4"/>
<circle cx="339.75" cy="669.76" r="2.4"/>
<circle cx="341.64" cy="669.76" r="2.4"/>
<circle cx="343.52" cy="669.76" r="2.4"/>
<circle cx="345.41" cy="669.76" r="2.4"/>
<circle cx="347.29" cy="669.76" r="2.4"/>
<circle cx="349.18" cy="669.76" r="2.4"/>
<circle cx="351.06" cy="669.76" r="2.4"/>
<circle cx="352.95" cy="669.76" r="2.4"/>
<circle cx="354.83" cy="669.76" r="2.4"/>
<circle cx="356.72" cy="669.76" r="2.4"/>
<circle cx="358.60" cy="669.76" r="2.4"/>
<circle cx="360.49" cy="669.76" r="2.4"/>
<circle cx="362.37" cy="669.76" r="2.4"/>
<circle cx="364.26" cy="669.76" r="2.4"/>
<circle cx="366.14" cy="669.76" r="2.4"/>
<circle cx="368.03" cy="669.76" r="2.4"/>
<circle cx="369.91" cy="669.76" r="2.4"/>
<circle cx="371.80" cy="669.76" r="2.4"/>
<circle cx="376.80" cy="658.48" r="2.4"/>
<circle cx="378.82" cy="658.48" r="2.4"/>
<circle cx="380.85" cy="658.48" r="2.4"/>
<circle cx="382.88" cy="658.48" r="2.4"/>
<circle cx="384.90" cy="658.48" r="2.4"/>
<circle cx="391.00" cy="647.19" r="2.4"/>
<circle cx="392.95" cy="647.19" r="2.4"/>
<circle cx="394.89" cy="647.19" r="2.4"/>
<circle cx="396.84" cy="647.19" r="2.4"/>
<circle cx="398.79" cy="647.19" r="2.4"/>
<circle cx="400.73" cy="647.19" r="2.4"/>
<circle cx="402.68" cy="647.19" r="2.4"/>
<circle cx="404.63" cy="647.19" r="2.4"/>
<circle cx="406.57" cy="647.19" r="2.4"/>
<circle cx="408.52" cy="647.19" r="2.4"/>
<circle cx="410.47" cy="647.19" r="2.4"/>
<circle cx="412.41" cy="647.19" r="2.4"/>
<circle cx="414.36" cy="647.19" r="2.4"/>
<circle cx="416.31" cy="647.19" r="2.4"/>
<circle cx="418.25" cy="647.19" r="2.4"/>
<circle cx="420.20" cy="647.19" r="2.4"/>
<circle cx="423.50" cy="635.90" r="2.4"/>
<circle cx="425.52" cy="635.90" r="2.4"/>
<circle cx="427.53" cy="635.90" r="2.4"/>
<circle cx="429.55" cy="635.90" r="2.4"/>
<circle cx="431.57" cy="635.90" r="2.4"/>
<circle cx="433.58" cy="635.90" r="2.4"/>
<circle cx="435.60" cy="635.90" r="2.4"/>
<circle cx="440.10" cy="624.62" r="2.4"/>
<circle cx="442.06" cy="624.62" r="2.4"/>
<circle cx="444.02" cy="624.62" r="2.4"/>
<circle cx="445.98" cy="624.62" r="2.4"/>
<circle cx="447.93" cy="624.62" r="2.4"/>
<circle cx="449.89" cy="624.62" r="2.4"/>
<circle cx="451.85" cy="624.62" r="2.4"/>
<circle cx="453.81" cy="624.62" r="2.4"/>
<circle cx="455.77" cy="624.62" r="2.4"/>
<circle cx="457.73" cy="624.62" r="2.4"/>
<circle cx="459.68" cy="624.62" r="2.4"/>
<circle cx="461.64" cy="624.62" r="2.4"/>
<circle cx="463.60" cy="624.62" r="2.4"/>
</g>
<path d="M86.20,962.74 L86.73,961.29 L87.27,959.85 L87.79,958.41 L88.32,956.97 L88.84,955.53 L89.36,954.09 L89.88,952.65 L90.39,951.21 L90.90,949.77 L91.41,948.33 L91.92,946.90 L92.42,945.46 L92.92,944.02 L93.42,942.59 L93.92,941.15 L94.41,939.72 L94.91,938.28 L95.40,936.85 L95.89,935.42 L96.38,933.99 L96.87,932.56 L97.36,931.13 L97.84,929.70 L98.33,928.27 L98.81,926.84 L99.29,925.41 L99.78,923.98 L100.26,922.56 L100.74,921.13 L101.22,919.71 L101.71,918.28 L102.19,916.86 L102.67,915.44 L103.15,914.01 L103.63,912.59 L104.12,911.17 L104.60,909.75 L105.08,908.33 L105.57,906.91 L106.05,905.50 L106.54,904.08 L107.03,902.66 L107.52,901.25 L108.01,899.84 L108.50,898.42 L108.99,897.01 L109.49,895.60 L109.98,894.19 L110.48,892.78 L110.98,891.37 L111.49,889.96 L111.99,888.55 L112.50,887.15 L113.01,885.74 L113.52,884.34 L114.04,882.93 L114.56,881.53 L115.08,880.13 L115.60,878.73 L116.13,877.33 L116.66,875.93 L117.19,874.53 L117.73,873.14 L118.27,871.74 L118.82,870.35 L119.36,868.95 L119.92,867.56 L120.47,866.17 L121.03,864.78 L121.59,863.39 L122.16,862.00 L122.72,860.61 L123.29,859.22 L123.87,857.84 L124.45,856.46 L125.03,855.07 L125.61,853.69 L126.20,852.31 L126.79,850.93 L127.39,849.55 L127.99,848.17 L128.59,846.80 L129.19,845.42 L129.80,844.05 L130.41,842.67 L131.02,841.30 L131.64,839.93 L132.26,838.56 L132.88,837.19 L133.51,835.82 L134.14,834.46 L134.77,833.09 L135.41,831.73 L136.05,830.37 L136.69,829.01 L137.34,827.65 L137.99,826.29 L138.64,824.93 L139.29,823.58 L139.95,822.22 L140.61,820.87 L141.27,819.51 L141.94,818.16 L142.61,816.81 L143.28,815.47 L143.96,814.12 L144.64,812.77 L145.32,811.43 L146.00,810.09 L146.69,808.74 L147.38,807.40 L148.08,806.07 L148.77,804.73 L149.47,803.39 L150.18,802.06 L150.88,800.73 L151.59,799.40 L152.31,798.07 L153.02,796.74 L153.74,795.42 L154.47,794.09 L155.20,792.77 L155.93,791.45 L156.66,790.14 L157.40,788.82 L158.15,787.51 L158.89,786.20 L159.64,784.90 L160.40,783.59 L161.16,782.29 L161.92,780.99 L162.69,779.70 L163.47,778.41 L164.24,777.12 L165.03,775.83 L165.81,774.55 L166.60,773.27 L167.40,771.99 L168.20,770.72 L169.01,769.45 L169.82,768.18 L170.63,766.92 L171.46,765.66 L172.28,764.40 L173.11,763.15 L173.95,761.90 L174.79,760.65 L175.64,759.41 L176.50,758.18 L177.35,756.94 L178.22,755.71 L179.09,754.49 L179.97,753.27 L180.85,752.05 L181.74,750.84 L182.63,749.64 L183.53,748.43 L184.44,747.24 L185.35,746.04 L186.27,744.86 L187.20,743.67 L188.13,742.49 L189.07,741.32 L190.01,740.15 L190.96,738.99 L191.92,737.83 L192.89,736.68 L193.86,735.53 L194.84,734.39 L195.82,733.25 L196.82,732.12 L197.82,731.00 L198.82,729.88 L199.84,728.76 L200.86,727.65 L201.89,726.55 L202.93,725.45 L203.97,724.36 L205.02,723.28 L206.08,722.20 L207.15,721.13 L208.22,720.06 L209.31,719.00 L210.40,717.95 L211.50,716.90 L212.60,715.87 L213.72,714.83 L214.84,713.81 L215.97,712.79 L217.11,711.77 L218.26,710.77 L219.42,709.78 L220.58,708.79 L221.75,707.81 L222.93,706.85 L224.12,705.89 L225.31,704.95 L226.51,704.01 L227.72,703.09 L228.94,702.18 L230.16,701.28 L231.40,700.40 L232.63,699.53 L233.88,698.67 L235.13,697.83 L236.39,697.00 L237.66,696.19 L238.93,695.39 L240.21,694.61 L241.50,693.85 L242.80,693.10 L244.10,692.38 L245.40,691.67 L246.72,690.97 L248.04,690.30 L249.36,689.65 L250.70,689.02 L252.04,688.40 L253.38,687.81 L254.73,687.24 L256.09,686.69 L257.45,686.16 L258.82,685.66 L260.20,685.18 L261.58,684.72 L262.97,684.29 L264.36,683.88 L265.76,683.50 L267.16,683.14 L268.57,682.80 L269.98,682.49 L271.40,682.19 L272.82,681.91 L274.25,681.65 L275.68,681.41 L277.12,681.17 L278.56,680.94 L280.00,680.73 L281.45,680.52 L282.90,680.31 L284.35,680.11 L285.81,679.90 L287.27,679.70 L288.73,679.49 L290.19,679.28 L291.66,679.06 L293.12,678.83 L294.59,678.59 L296.06,678.34 L297.53,678.08 L299.00,677.80 L300.48,677.51 L301.95,677.22 L303.42,676.91 L304.90,676.59 L306.37,676.26 L307.85,675.92 L309.32,675.57 L310.79,675.21 L312.27,674.85 L313.74,674.48 L315.22,674.10 L316.69,673.71 L318.16,673.32 L319.63,672.92 L321.10,672.52 L322.57,672.11 L324.04,671.70 L325.50,671.28 L326.97,670.86 L328.43,670.44 L329.89,670.01 L331.35,669.58 L332.81,669.14 L334.26,668.70 L335.72,668.26 L337.17,667.82 L338.62,667.37 L340.07,666.92 L341.52,666.47 L342.97,666.01 L344.42,665.55 L345.86,665.09 L347.31,664.62 L348.75,664.16 L350.19,663.69 L351.63,663.21 L353.07,662.74 L354.51,662.26 L355.95,661.78 L357.38,661.30 L358.82,660.81 L360.25,660.33 L361.68,659.84 L363.11,659.35 L364.54,658.86 L365.97,658.36 L367.40,657.87 L368.83,657.37 L370.25,656.87 L371.68,656.37 L373.10,655.87 L374.53,655.36 L375.95,654.86 L377.37,654.35 L378.79,653.85 L380.21,653.34 L381.63,652.83 L383.05,652.32 L384.47,651.80 L385.89,651.29 L387.31,650.78 L388.72,650.27 L390.14,649.75 L391.55,649.24 L392.97,648.72 L394.38,648.20 L395.79,647.69 L397.21,647.17 L398.62,646.65 L400.03,646.14 L401.44,645.62 L402.86,645.10 L404.27,644.58 L405.68,644.07 L407.09,643.55 L408.50,643.03 L409.91,642.52 L411.31,642.00 L412.72,641.48 L414.13,640.97 L415.54,640.45 L416.95,639.94 L418.36,639.43 L419.76,638.91 L421.17,638.40 L422.58,637.89 L423.99,637.38 L425.40,636.87 L426.80,636.37 L428.21,635.86 L429.62,635.36 L431.03,634.85 L432.43,634.35 L433.84,633.85 L435.25,633.35 L436.66,632.85 L438.06,632.36 L439.47,631.86 L440.88,631.37 L442.29,630.88 L443.70,630.39 L445.11,629.91 L446.52,629.42 L447.93,628.94 L449.34,628.46 L450.75,627.98 L452.16,627.51 L453.57,627.03 L454.98,626.56 L456.39,626.10 L457.80,625.63" fill="none" stroke="#669ff3" stroke-width="2.8" stroke-linecap="butt" stroke-linejoin="round"/>
<path d="M626.20,592.60 V1063.50 H1042.40" fill="none" stroke="#5e5e5e" stroke-width="1.8"/>
<line x1="621.60" y1="613.60" x2="626.20" y2="613.60" stroke="#2a2a2a" stroke-width="1.8"/>
<text x="603.00" y="618.80" text-anchor="middle" class="tl" fill="#474747">100</text>
<line x1="621.60" y1="720.75" x2="626.20" y2="720.75" stroke="#2a2a2a" stroke-width="1.8"/>
<text x="603.00" y="725.95" text-anchor="middle" class="tl" fill="#474747">75</text>
<line x1="621.60" y1="827.90" x2="626.20" y2="827.90" stroke="#2a2a2a" stroke-width="1.8"/>
<text x="603.00" y="833.10" text-anchor="middle" class="tl" fill="#474747">50</text>
<line x1="621.60" y1="935.05" x2="626.20" y2="935.05" stroke="#2a2a2a" stroke-width="1.8"/>
<text x="603.00" y="940.25" text-anchor="middle" class="tl" fill="#474747">25</text>
<line x1="621.60" y1="1042.20" x2="626.20" y2="1042.20" stroke="#2a2a2a" stroke-width="1.8"/>
<text x="603.00" y="1047.40" text-anchor="middle" class="tl" fill="#474747">0</text>
<line x1="641.40" y1="1063.50" x2="641.40" y2="1068.10" stroke="#2a2a2a" stroke-width="1.8"/>
<text x="641.40" y="1086.30" text-anchor="middle" class="tl" fill="#474747">-100</text>
<line x1="736.00" y1="1063.50" x2="736.00" y2="1068.10" stroke="#2a2a2a" stroke-width="1.8"/>
<text x="736.00" y="1086.30" text-anchor="middle" class="tl" fill="#474747">-75</text>
<line x1="830.60" y1="1063.50" x2="830.60" y2="1068.10" stroke="#2a2a2a" stroke-width="1.8"/>
<text x="830.60" y="1086.30" text-anchor="middle" class="tl" fill="#474747">-50</text>
<line x1="925.20" y1="1063.50" x2="925.20" y2="1068.10" stroke="#2a2a2a" stroke-width="1.8"/>
<text x="925.20" y="1086.30" text-anchor="middle" class="tl" fill="#474747">-25</text>
<line x1="1019.80" y1="1063.50" x2="1019.80" y2="1068.10" stroke="#2a2a2a" stroke-width="1.8"/>
<text x="1019.80" y="1086.30" text-anchor="middle" class="tl" fill="#474747">0</text>
<text x="806.00" y="1115.30" class="at" fill="#3f3f3f" textLength="85.00" lengthAdjust="spacingAndGlyphs">Specificity</text>
<text transform="translate(575.90,870.40) rotate(-90)" x="0" y="0" class="at" fill="#3f3f3f" textLength="85.80" lengthAdjust="spacingAndGlyphs">Sensitivity</text>
<text x="658.30" y="607.80" class="tt" textLength="31.30" lengthAdjust="spacingAndGlyphs">ALT</text>
<text x="821.70" y="1044.20" class="auc" textLength="225.20" lengthAdjust="spacingAndGlyphs">AUC: 0.70 (95%CI 0.65 – 0.77)</text>
<polyline points="645.00,1042.20 646.50,1030.92 649.00,1030.92 649.00,1019.64 649.00,1008.36 650.80,1008.36 650.80,997.08 656.50,997.08 655.80,985.80 655.80,974.52 656.30,963.24 656.30,951.96 661.50,951.96 661.50,940.68 667.80,940.68 667.80,929.40 672.00,929.40 673.10,918.12 676.80,918.12 678.70,906.84 681.10,906.84 682.40,895.56 692.90,895.56 695.50,884.28 696.70,884.28 698.60,873.00 700.40,873.00 702.90,861.72 714.10,861.72 716.00,850.44 719.70,850.44 721.60,839.16 723.40,816.60 728.40,816.60 729.70,805.32 734.00,805.32 736.00,794.04 736.50,782.76 740.10,782.76 743.10,771.48 748.10,771.48 749.10,760.20 756.80,760.20 758.40,748.92 786.00,748.92 789.90,737.64 792.40,726.36 802.70,726.36 803.70,715.08 845.30,715.08 847.60,703.80 856.60,703.80 857.90,692.52 880.90,692.52 885.00,681.24 917.90,681.24 921.10,669.96 936.90,669.96 941.90,658.68 991.10,658.68 992.70,647.40 994.30,636.12 999.20,636.12 1003.30,624.84 1022.70,624.84" fill="none" stroke="#6d97e3" stroke-width="1.1" stroke-linejoin="round"/>
<g fill="#669ff3">
<circle cx="645.00" cy="1042.20" r="2.6"/>
<circle cx="646.50" cy="1030.92" r="2.6"/>
<circle cx="649.00" cy="1030.92" r="2.6"/>
<circle cx="649.00" cy="1019.64" r="2.6"/>
<circle cx="649.00" cy="1008.36" r="2.6"/>
<circle cx="650.80" cy="1008.36" r="2.6"/>
<circle cx="650.80" cy="997.08" r="2.6"/>
<circle cx="656.50" cy="997.08" r="2.6"/>
<circle cx="655.80" cy="985.80" r="2.6"/>
<circle cx="655.80" cy="974.52" r="2.6"/>
<circle cx="656.30" cy="963.24" r="2.6"/>
<circle cx="721.60" cy="839.16" r="2.6"/>
<circle cx="736.00" cy="794.04" r="2.6"/>
<circle cx="789.90" cy="737.64" r="2.6"/>
<circle cx="992.70" cy="647.40" r="2.6"/>
<circle cx="656.30" cy="951.96" r="2.4"/>
<circle cx="658.03" cy="951.96" r="2.4"/>
<circle cx="659.77" cy="951.96" r="2.4"/>
<circle cx="661.50" cy="951.96" r="2.4"/>
<circle cx="661.50" cy="940.68" r="2.4"/>
<circle cx="663.60" cy="940.68" r="2.4"/>
<circle cx="665.70" cy="940.68" r="2.4"/>
<circle cx="667.80" cy="940.68" r="2.4"/>
<circle cx="667.80" cy="929.40" r="2.4"/>
<circle cx="669.90" cy="929.40" r="2.4"/>
<circle cx="672.00" cy="929.40" r="2.4"/>
<circle cx="673.10" cy="918.12" r="2.4"/>
<circle cx="674.95" cy="918.12" r="2.4"/>
<circle cx="676.80" cy="918.12" r="2.4"/>
<circle cx="678.70" cy="906.84" r="2.4"/>
<circle cx="681.10" cy="906.84" r="2.4"/>
<circle cx="682.40" cy="895.56" r="2.4"/>
<circle cx="684.15" cy="895.56" r="2.4"/>
<circle cx="685.90" cy="895.56" r="2.4"/>
<circle cx="687.65" cy="895.56" r="2.4"/>
<circle cx="689.40" cy="895.56" r="2.4"/>
<circle cx="691.15" cy="895.56" r="2.4"/>
<circle cx="692.90" cy="895.56" r="2.4"/>
<circle cx="695.50" cy="884.28" r="2.4"/>
<circle cx="696.70" cy="884.28" r="2.4"/>
<circle cx="698.60" cy="873.00" r="2.4"/>
<circle cx="700.40" cy="873.00" r="2.4"/>
<circle cx="702.90" cy="861.72" r="2.4"/>
<circle cx="704.77" cy="861.72" r="2.4"/>
<circle cx="706.63" cy="861.72" r="2.4"/>
<circle cx="708.50" cy="861.72" r="2.4"/>
<circle cx="710.37" cy="861.72" r="2.4"/>
<circle cx="712.23" cy="861.72" r="2.4"/>
<circle cx="714.10" cy="861.72" r="2.4"/>
<circle cx="716.00" cy="850.44" r="2.4"/>
<circle cx="717.85" cy="850.44" r="2.4"/>
<circle cx="719.70" cy="850.44" r="2.4"/>
<circle cx="723.40" cy="816.60" r="2.4"/>
<circle cx="725.07" cy="816.60" r="2.4"/>
<circle cx="726.73" cy="816.60" r="2.4"/>
<circle cx="728.40" cy="816.60" r="2.4"/>
<circle cx="729.70" cy="805.32" r="2.4"/>
<circle cx="731.85" cy="805.32" r="2.4"/>
<circle cx="734.00" cy="805.32" r="2.4"/>
<circle cx="736.50" cy="782.76" r="2.4"/>
<circle cx="738.30" cy="782.76" r="2.4"/>
<circle cx="740.10" cy="782.76" r="2.4"/>
<circle cx="743.10" cy="771.48" r="2.4"/>
<circle cx="744.77" cy="771.48" r="2.4"/>
<circle cx="746.43" cy="771.48" r="2.4"/>
<circle cx="748.10" cy="771.48" r="2.4"/>
<circle cx="749.10" cy="760.20" r="2.4"/>
<circle cx="751.02" cy="760.20" r="2.4"/>
<circle cx="752.95" cy="760.20" r="2.4"/>
<circle cx="754.88" cy="760.20" r="2.4"/>
<circle cx="756.80" cy="760.20" r="2.4"/>
<circle cx="758.40" cy="748.92" r="2.4"/>
<circle cx="760.24" cy="748.92" r="2.4"/>
<circle cx="762.08" cy="748.92" r="2.4"/>
<circle cx="763.92" cy="748.92" r="2.4"/>
<circle cx="765.76" cy="748.92" r="2.4"/>
<circle cx="767.60" cy="748.92" r="2.4"/>
<circle cx="769.44" cy="748.92" r="2.4"/>
<circle cx="771.28" cy="748.92" r="2.4"/>
<circle cx="773.12" cy="748.92" r="2.4"/>
<circle cx="774.96" cy="748.92" r="2.4"/>
<circle cx="776.80" cy="748.92" r="2.4"/>
<circle cx="778.64" cy="748.92" r="2.4"/>
<circle cx="780.48" cy="748.92" r="2.4"/>
<circle cx="782.32" cy="748.92" r="2.4"/>
<circle cx="784.16" cy="748.92" r="2.4"/>
<circle cx="786.00" cy="748.92" r="2.4"/>
<circle cx="792.40" cy="726.36" r="2.4"/>
<circle cx="794.46" cy="726.36" r="2.4"/>
<circle cx="796.52" cy="726.36" r="2.4"/>
<circle cx="798.58" cy="726.36" r="2.4"/>
<circle cx="800.64" cy="726.36" r="2.4"/>
<circle cx="802.70" cy="726.36" r="2.4"/>
<circle cx="803.70" cy="715.08" r="2.4"/>
<circle cx="805.59" cy="715.08" r="2.4"/>
<circle cx="807.48" cy="715.08" r="2.4"/>
<circle cx="809.37" cy="715.08" r="2.4"/>
<circle cx="811.26" cy="715.08" r="2.4"/>
<circle cx="813.15" cy="715.08" r="2.4"/>
<circle cx="815.05" cy="715.08" r="2.4"/>
<circle cx="816.94" cy="715.08" r="2.4"/>
<circle cx="818.83" cy="715.08" r="2.4"/>
<circle cx="820.72" cy="715.08" r="2.4"/>
<circle cx="822.61" cy="715.08" r="2.4"/>
<circle cx="824.50" cy="715.08" r="2.4"/>
<circle cx="826.39" cy="715.08" r="2.4"/>
<circle cx="828.28" cy="715.08" r="2.4"/>
<circle cx="830.17" cy="715.08" r="2.4"/>
<circle cx="832.06" cy="715.08" r="2.4"/>
<circle cx="833.95" cy="715.08" r="2.4"/>
<circle cx="835.85" cy="715.08" r="2.4"/>
<circle cx="837.74" cy="715.08" r="2.4"/>
<circle cx="839.63" cy="715.08" r="2.4"/>
<circle cx="841.52" cy="715.08" r="2.4"/>
<circle cx="843.41" cy="715.08" r="2.4"/>
<circle cx="845.30" cy="715.08" r="2.4"/>
<circle cx="847.60" cy="703.80" r="2.4"/>
<circle cx="849.40" cy="703.80" r="2.4"/>
<circle cx="851.20" cy="703.80" r="2.4"/>
<circle cx="853.00" cy="703.80" r="2.4"/>
<circle cx="854.80" cy="703.80" r="2.4"/>
<circle cx="856.60" cy="703.80" r="2.4"/>
<circle cx="857.90" cy="692.52" r="2.4"/>
<circle cx="859.82" cy="692.52" r="2.4"/>
<circle cx="861.73" cy="692.52" r="2.4"/>
<circle cx="863.65" cy="692.52" r="2.4"/>
<circle cx="865.57" cy="692.52" r="2.4"/>
<circle cx="867.48" cy="692.52" r="2.4"/>
<circle cx="869.40" cy="692.52" r="2.4"/>
<circle cx="871.32" cy="692.52" r="2.4"/>
<circle cx="873.23" cy="692.52" r="2.4"/>
<circle cx="875.15" cy="692.52" r="2.4"/>
<circle cx="877.07" cy="692.52" r="2.4"/>
<circle cx="878.98" cy="692.52" r="2.4"/>
<circle cx="880.90" cy="692.52" r="2.4"/>
<circle cx="885.00" cy="681.24" r="2.4"/>
<circle cx="886.94" cy="681.24" r="2.4"/>
<circle cx="888.87" cy="681.24" r="2.4"/>
<circle cx="890.81" cy="681.24" r="2.4"/>
<circle cx="892.74" cy="681.24" r="2.4"/>
<circle cx="894.68" cy="681.24" r="2.4"/>
<circle cx="896.61" cy="681.24" r="2.4"/>
<circle cx="898.55" cy="681.24" r="2.4"/>
<circle cx="900.48" cy="681.24" r="2.4"/>
<circle cx="902.42" cy="681.24" r="2.4"/>
<circle cx="904.35" cy="681.24" r="2.4"/>
<circle cx="906.29" cy="681.24" r="2.4"/>
<circle cx="908.22" cy="681.24" r="2.4"/>
<circle cx="910.16" cy="681.24" r="2.4"/>
<circle cx="912.09" cy="681.24" r="2.4"/>
<circle cx="914.03" cy="681.24" r="2.4"/>
<circle cx="915.96" cy="681.24" r="2.4"/>
<circle cx="917.90" cy="681.24" r="2.4"/>
<circle cx="921.10" cy="669.96" r="2.4"/>
<circle cx="923.08" cy="669.96" r="2.4"/>
<circle cx="925.05" cy="669.96" r="2.4"/>
<circle cx="927.02" cy="669.96" r="2.4"/>
<circle cx="929.00" cy="669.96" r="2.4"/>
<circle cx="930.98" cy="669.96" r="2.4"/>
<circle cx="932.95" cy="669.96" r="2.4"/>
<circle cx="934.92" cy="669.96" r="2.4"/>
<circle cx="936.90" cy="669.96" r="2.4"/>
<circle cx="941.90" cy="658.68" r="2.4"/>
<circle cx="943.79" cy="658.68" r="2.4"/>
<circle cx="945.68" cy="658.68" r="2.4"/>
<circle cx="947.58" cy="658.68" r="2.4"/>
<circle cx="949.47" cy="658.68" r="2.4"/>
<circle cx="951.36" cy="658.68" r="2.4"/>
<circle cx="953.25" cy="658.68" r="2.4"/>
<circle cx="955.15" cy="658.68" r="2.4"/>
<circle cx="957.04" cy="658.68" r="2.4"/>
<circle cx="958.93" cy="658.68" r="2.4"/>
<circle cx="960.82" cy="658.68" r="2.4"/>
<circle cx="962.72" cy="658.68" r="2.4"/>
<circle cx="964.61" cy="658.68" r="2.4"/>
<circle cx="966.50" cy="658.68" r="2.4"/>
<circle cx="968.39" cy="658.68" r="2.4"/>
<circle cx="970.28" cy="658.68" r="2.4"/>
<circle cx="972.18" cy="658.68" r="2.4"/>
<circle cx="974.07" cy="658.68" r="2.4"/>
<circle cx="975.96" cy="658.68" r="2.4"/>
<circle cx="977.85" cy="658.68" r="2.4"/>
<circle cx="979.75" cy="658.68" r="2.4"/>
<circle cx="981.64" cy="658.68" r="2.4"/>
<circle cx="983.53" cy="658.68" r="2.4"/>
<circle cx="985.42" cy="658.68" r="2.4"/>
<circle cx="987.32" cy="658.68" r="2.4"/>
<circle cx="989.21" cy="658.68" r="2.4"/>
<circle cx="991.10" cy="658.68" r="2.4"/>
<circle cx="994.30" cy="636.12" r="2.4"/>
<circle cx="995.93" cy="636.12" r="2.4"/>
<circle cx="997.57" cy="636.12" r="2.4"/>
<circle cx="999.20" cy="636.12" r="2.4"/>
<circle cx="1003.30" cy="624.84" r="2.4"/>
<circle cx="1005.24" cy="624.84" r="2.4"/>
<circle cx="1007.18" cy="624.84" r="2.4"/>
<circle cx="1009.12" cy="624.84" r="2.4"/>
<circle cx="1011.06" cy="624.84" r="2.4"/>
<circle cx="1013.00" cy="624.84" r="2.4"/>
<circle cx="1014.94" cy="624.84" r="2.4"/>
<circle cx="1016.88" cy="624.84" r="2.4"/>
<circle cx="1018.82" cy="624.84" r="2.4"/>
<circle cx="1020.76" cy="624.84" r="2.4"/>
<circle cx="1022.70" cy="624.84" r="2.4"/>
</g>
<path d="M645.28,1009.66 L645.76,1008.21 L646.23,1006.76 L646.71,1005.31 L647.19,1003.86 L647.67,1002.42 L648.15,1000.97 L648.63,999.53 L649.11,998.08 L649.60,996.64 L650.08,995.20 L650.57,993.76 L651.05,992.32 L651.54,990.88 L652.03,989.44 L652.53,988.01 L653.02,986.57 L653.51,985.14 L654.01,983.70 L654.50,982.27 L655.00,980.84 L655.50,979.41 L656.00,977.98 L656.50,976.55 L657.00,975.13 L657.51,973.70 L658.01,972.27 L658.52,970.85 L659.03,969.43 L659.54,968.01 L660.05,966.58 L660.56,965.16 L661.07,963.74 L661.59,962.33 L662.10,960.91 L662.62,959.49 L663.14,958.08 L663.66,956.66 L664.18,955.25 L664.70,953.84 L665.22,952.42 L665.75,951.01 L666.28,949.60 L666.81,948.19 L667.33,946.78 L667.87,945.38 L668.40,943.97 L668.93,942.56 L669.47,941.16 L670.00,939.76 L670.54,938.35 L671.08,936.95 L671.62,935.55 L672.17,934.15 L672.71,932.75 L673.26,931.35 L673.80,929.95 L674.35,928.55 L674.90,927.15 L675.45,925.76 L676.01,924.36 L676.56,922.97 L677.12,921.57 L677.68,920.18 L678.24,918.78 L678.80,917.39 L679.36,916.00 L679.92,914.61 L680.49,913.22 L681.06,911.83 L681.63,910.44 L682.20,909.05 L682.77,907.67 L683.34,906.28 L683.92,904.89 L684.49,903.51 L685.07,902.12 L685.65,900.74 L686.23,899.36 L686.82,897.97 L687.40,896.59 L687.99,895.21 L688.58,893.83 L689.17,892.45 L689.76,891.07 L690.35,889.69 L690.95,888.31 L691.55,886.93 L692.14,885.55 L692.74,884.18 L693.35,882.80 L693.95,881.42 L694.56,880.05 L695.16,878.67 L695.77,877.30 L696.38,875.92 L696.99,874.55 L697.61,873.18 L698.23,871.80 L698.84,870.43 L699.46,869.06 L700.08,867.69 L700.71,866.32 L701.33,864.95 L701.96,863.58 L702.59,862.21 L703.22,860.84 L703.85,859.47 L704.48,858.10 L705.12,856.73 L705.76,855.36 L706.40,854.00 L707.04,852.63 L707.68,851.26 L708.33,849.90 L708.98,848.53 L709.63,847.17 L710.28,845.81 L710.93,844.45 L711.59,843.08 L712.25,841.72 L712.92,840.37 L713.58,839.01 L714.25,837.65 L714.92,836.30 L715.59,834.94 L716.27,833.59 L716.95,832.24 L717.63,830.89 L718.32,829.54 L719.01,828.19 L719.70,826.85 L720.40,825.51 L721.10,824.16 L721.80,822.83 L722.50,821.49 L723.21,820.15 L723.93,818.82 L724.64,817.49 L725.37,816.16 L726.09,814.83 L726.82,813.51 L727.55,812.19 L728.29,810.87 L729.03,809.55 L729.77,808.24 L730.52,806.93 L731.28,805.62 L732.04,804.31 L732.80,803.01 L733.57,801.71 L734.34,800.41 L735.11,799.12 L735.89,797.83 L736.68,796.54 L737.47,795.25 L738.27,793.97 L739.07,792.69 L739.87,791.42 L740.68,790.15 L741.50,788.88 L742.32,787.62 L743.15,786.36 L743.98,785.10 L744.82,783.85 L745.66,782.60 L746.51,781.35 L747.37,780.11 L748.23,778.87 L749.09,777.64 L749.96,776.41 L750.84,775.19 L751.73,773.97 L752.62,772.75 L753.51,771.54 L754.41,770.33 L755.32,769.13 L756.24,767.93 L757.16,766.74 L758.09,765.55 L759.02,764.36 L759.96,763.18 L760.91,762.01 L761.86,760.84 L762.82,759.68 L763.79,758.52 L764.77,757.36 L765.75,756.21 L766.74,755.07 L767.73,753.93 L768.74,752.80 L769.75,751.67 L770.77,750.55 L771.79,749.43 L772.82,748.32 L773.86,747.22 L774.91,746.12 L775.97,745.03 L777.03,743.95 L778.10,742.88 L779.17,741.81 L780.26,740.76 L781.35,739.71 L782.45,738.67 L783.55,737.64 L784.66,736.63 L785.78,735.62 L786.91,734.63 L788.04,733.64 L789.18,732.67 L790.33,731.71 L791.49,730.76 L792.65,729.83 L793.82,728.91 L794.99,728.00 L796.17,727.11 L797.36,726.22 L798.56,725.35 L799.76,724.49 L800.97,723.64 L802.19,722.81 L803.41,721.99 L804.65,721.17 L805.88,720.37 L807.13,719.58 L808.38,718.80 L809.64,718.04 L810.90,717.28 L812.17,716.53 L813.45,715.80 L814.73,715.07 L816.02,714.36 L817.32,713.65 L818.63,712.95 L819.94,712.27 L821.25,711.59 L822.58,710.93 L823.91,710.27 L825.24,709.62 L826.59,708.98 L827.93,708.34 L829.29,707.72 L830.64,707.10 L832.01,706.49 L833.37,705.89 L834.75,705.29 L836.12,704.70 L837.50,704.12 L838.89,703.54 L840.28,702.96 L841.67,702.40 L843.07,701.83 L844.46,701.27 L845.87,700.72 L847.27,700.17 L848.68,699.62 L850.09,699.08 L851.50,698.53 L852.91,697.99 L854.33,697.46 L855.75,696.92 L857.17,696.39 L858.59,695.86 L860.01,695.33 L861.43,694.80 L862.85,694.27 L864.27,693.74 L865.70,693.22 L867.12,692.69 L868.54,692.16 L869.97,691.63 L871.39,691.10 L872.81,690.56 L874.23,690.03 L875.65,689.49 L877.07,688.95 L878.48,688.41 L879.90,687.86 L881.31,687.31 L882.72,686.76 L884.13,686.21 L885.54,685.65 L886.95,685.09 L888.35,684.53 L889.76,683.97 L891.16,683.40 L892.56,682.83 L893.96,682.26 L895.36,681.69 L896.76,681.12 L898.15,680.54 L899.55,679.96 L900.94,679.38 L902.34,678.80 L903.73,678.21 L905.12,677.62 L906.51,677.04 L907.90,676.45 L909.29,675.85 L910.67,675.26 L912.06,674.67 L913.45,674.07 L914.83,673.47 L916.22,672.88 L917.60,672.28 L918.98,671.67 L920.36,671.07 L921.74,670.47 L923.12,669.87 L924.50,669.26 L925.88,668.65 L927.26,668.05 L928.64,667.44 L930.02,666.83 L931.40,666.22 L932.77,665.61 L934.15,665.00 L935.53,664.39 L936.90,663.78 L938.28,663.17 L939.65,662.56 L941.03,661.94 L942.40,661.33 L943.78,660.72 L945.15,660.11 L946.53,659.49 L947.90,658.88 L949.28,658.27 L950.65,657.66 L952.03,657.04 L953.40,656.43 L954.78,655.82 L956.15,655.21 L957.53,654.60 L958.90,653.99 L960.28,653.38 L961.65,652.77 L963.03,652.16 L964.40,651.55 L965.78,650.95 L967.16,650.34 L968.53,649.74 L969.91,649.13 L971.29,648.53 L972.67,647.93 L974.05,647.33 L975.43,646.73 L976.81,646.13 L978.19,645.53 L979.57,644.93 L980.95,644.34 L982.34,643.75 L983.72,643.16 L985.10,642.57 L986.49,641.98 L987.88,641.39 L989.26,640.81 L990.65,640.22 L992.04,639.64 L993.43,639.07 L994.82,638.49 L996.21,637.91 L997.60,637.34 L999.00,636.77 L1000.39,636.20 L1001.79,635.64 L1003.19,635.07 L1004.59,634.51 L1005.99,633.95 L1007.39,633.40 L1008.79,632.84 L1010.19,632.29 L1011.60,631.75 L1013.00,631.20 L1014.41,630.66 L1015.82,630.12 L1017.23,629.58 L1018.65,629.05 L1020.06,628.52 L1021.48,627.99 L1022.89,627.47 L1024.31,626.95" fill="none" stroke="#669ff3" stroke-width="2.8" stroke-linecap="butt" stroke-linejoin="round"/>
</svg></body></html>
